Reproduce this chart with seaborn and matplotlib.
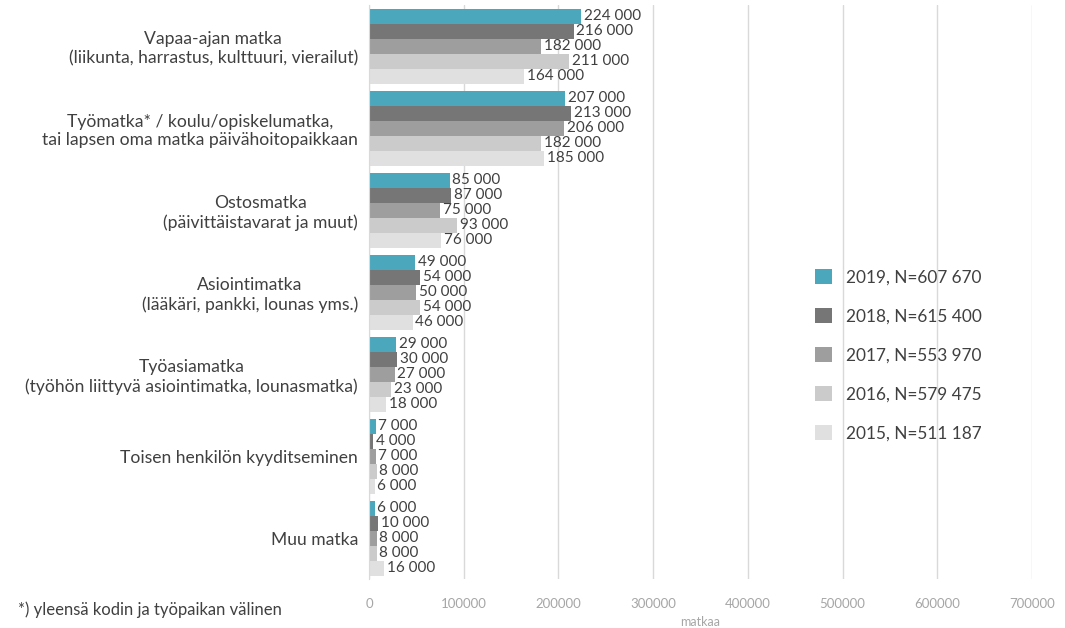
import pandas as pd, numpy as np
import matplotlib
matplotlib.use('Agg')
import matplotlib.pyplot as plt
import seaborn as sns

sns.set_style('white')
plt.rcParams['font.family'] = ['Lato', 'DejaVu Sans']

# Datos
kategoriat = ['Vapaa-ajan matka\n(liikunta, harrastus, kulttuuri, vierailut)',
              'Työmatka* / koulu/opiskelumatka,\ntai lapsen oma matka päivähoitopaikkaan',
              'Ostosmatka\n(päivittäistavarat ja muut)',
              'Asiointimatka\n(lääkäri, pankki, lounas yms.)',
              'Työasiamatka\n(työhön liittyvä asiointimatka, lounasmatka)',
              'Toisen henkilön kyyditseminen',
              'Muu matka']
vuodet = ['2019, N=607 670', '2018, N=615 400', '2017, N=553 970',
          '2016, N=579 475', '2015, N=511 187']
v2019 = [224000, 207000, 85000, 49000, 29000, 7000, 6000]
v2018 = [216000, 213000, 87000, 54000, 30000, 4000, 10000]
v2017 = [182000, 206000, 75000, 50000, 27000, 7000, 8000]
v2016 = [211000, 182000, 93000, 54000, 23000, 8000, 8000]
v2015 = [164000, 185000, 76000, 46000, 18000, 6000, 16000]
xticks = [0, 100000, 200000, 300000, 400000, 500000, 600000, 700000]
varit = ['#4BA7BC', '#767676', '#9E9E9E', '#CBCBCB', '#E0E0E0']

df = pd.DataFrame({'kategoria': kategoriat * 5,
                   'vuosi': np.repeat(vuodet, len(kategoriat)),
                   'matkaa': v2019 + v2018 + v2017 + v2016 + v2015})

fig = plt.figure(figsize=(10.65, 6.28), dpi=100)
ax = fig.add_axes([0.3465, 0.078, 0.6225, 0.914])
sns.barplot(data=df, y='kategoria', x='matkaa', hue='vuosi', order=kategoriat,
            hue_order=vuodet, palette=varit, orient='h', width=0.915,
            saturation=1, linewidth=0, ax=ax)

for c in ax.containers:
    ax.bar_label(c, labels=[f'{int(v):,}'.replace(',', ' ') for v in c.datavalues],
                 padding=2, fontsize=11, color='#404040')

ax.set_xlim(0, 700000)
ax.set_ylim(6.5, -0.5)
ax.set_xticks(xticks)
ax.set_xticklabels([str(t) for t in xticks], fontsize=9.5, color='#A6A6A6')
ax.tick_params(axis='x', length=0, pad=14)
ax.tick_params(axis='y', length=0, pad=8, labelsize=12.6, labelcolor='#404040')
for lab in ax.get_yticklabels():
    lab.set_horizontalalignment('right')
    lab.set_multialignment('center')
ax.grid(axis='x', color='#D9D9D9', linewidth=1)
ax.set_axisbelow(True)
for s in ['top', 'right', 'bottom']:
    ax.spines[s].set_visible(False)
ax.spines['left'].set_color('#D9D9D9')
ax.set_ylabel('')
ax.set_xlabel('matkaa', fontsize=9, color='#A6A6A6', labelpad=4)

ax.legend(title=None, loc='upper left', bbox_to_anchor=(0.65, 0.567), frameon=False,
          fontsize=12.4, labelspacing=1.32, handlelength=0.95, handleheight=0.95,
          handletextpad=0.8, labelcolor='#404040')

fig.text(0.017, 0.02, '*) yleensä kodin ja työpaikan välinen', fontsize=12,
         color='#404040')

plt.savefig('out.png', dpi=100)
